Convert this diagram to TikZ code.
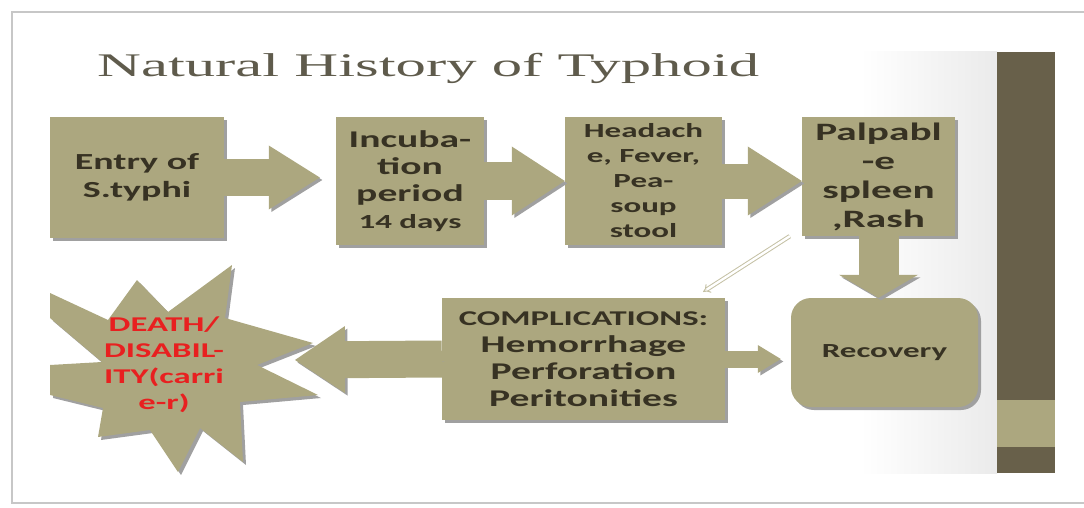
\documentclass[tikz,border=0pt]{standalone}
\usepackage{fontspec}
\setmainfont{Carlito}[FakeStretch=1.65]
\newfontfamily\titlefont{Liberation Serif}[FakeStretch=1.84]
\usetikzlibrary{arrows.meta, shadows}

\definecolor{olivebox}{RGB}{172,167,127}
\definecolor{darkbar}{RGB}{104,96,74}
\definecolor{boxshadow}{RGB}{160,160,160}
\definecolor{boxtext}{RGB}{55,50,35}
\definecolor{titletext}{RGB}{95,91,76}
\definecolor{deathred}{RGB}{232,32,32}

\tikzset{
  box/.style={rectangle, fill=olivebox, inner sep=0pt, text=boxtext, align=center,
    drop shadow={shadow xshift=3pt, shadow yshift=-3pt, fill=boxshadow, opacity=1}},
  blockarr/.style={draw=olivebox,
    preaction={draw=boxshadow, transform canvas={shift={(2.5pt,-2.5pt)}}}},
}

\begin{document}
\begin{tikzpicture}[x=1pt, y=-1pt]
  \useasboundingbox (0,0) rectangle (1084,508);
  % slide frame and side bar
  \draw[black!22, line width=1.5pt] (1084,12) -- (12,12) -- (12,503) -- (1084,503);
  \shade[left color=white, right color=black!8] (860,52) rectangle (997,473);
  \fill[darkbar] (997,52) rectangle (1055,473);
  \fill[olivebox] (997,400) rectangle (1055,447);
  % title
  \node[anchor=base west, inner sep=0pt, text=titletext,
    font=\titlefont\fontsize{33}{33}\selectfont] (title) at (97,77) {Natural History of Typhoid};
  % top row
  \node[box, minimum width=174pt, minimum height=121pt, font=\bfseries\fontsize{23}{28}\selectfont]
    (entry) at (137,177.5) {Entry of\\S.typhi};
  \node[box, minimum width=148pt, minimum height=128pt, font=\bfseries\fontsize{24}{27}\selectfont]
    (incub) at (410,181) {Incuba-\\tion\\period\\{\fontsize{20}{27}\selectfont 14 days}};
  \node[box, minimum width=157pt, minimum height=128pt, font=\bfseries\fontsize{20}{25}\selectfont]
    (symp) at (643.5,181) {Headach\\e, Fever,\\Pea-\\soup\\stool};
  \node[box, minimum width=153pt, minimum height=119pt, font=\bfseries\fontsize{25}{29}\selectfont]
    (spleen) at (878.5,176.5) {Palpabl\\-e\\spleen\\,Rash};
  % bottom row
  \node[box, minimum width=283pt, minimum height=122pt, font=\bfseries\fontsize{24}{27}\selectfont]
    (compl) at (583.5,359) {{\fontsize{21}{27}\selectfont COMPLICATIONS:}\\Hemorrhage\\Perforation\\Peritonities};
  \node[box, rounded corners=20pt, minimum width=187pt, minimum height=109pt,
    font=\bfseries\fontsize{20}{24}\selectfont] (recov) at (884.5,352.5) {Recovery};
  \fill[olivebox, preaction={fill=boxshadow, transform canvas={shift={(3pt,-3pt)}}}]
    (232,265) -- (225,318) -- (313,343) -- (257,365) -- (318,395) -- (240,402)
    -- (243,462) -- (200,428) -- (178,472) -- (150,430) -- (98,437) -- (103,408)
    -- (50,395) -- (50,365) -- (102,362) -- (50,318) -- (50,293) -- (108,320)
    -- (137,280) -- (168,312) -- cycle;
  \node[inner sep=0pt, align=center, text=deathred, font=\bfseries\fontsize{21}{26}\selectfont]
    (death) at (164,365) {DEATH/\\DISABIL-\\ITY(carri\\e-r)};
  \coordinate (deathtip) at (295,360);
  % connectors
  \draw[blockarr, line width=37pt, -{Triangle[length=51pt, width=64pt, line width=0pt]}, shorten >=16pt]
    (entry.east) -- (entry.east -| incub.west);
  \draw[blockarr, line width=38pt, -{Triangle[length=53pt, width=69pt, line width=0pt]}]
    (incub.east |- symp.west) -- (symp.west);
  \draw[blockarr, line width=35pt, -{Triangle[length=54pt, width=69pt, line width=0pt]}]
    (symp.east) -- (symp.east -| spleen.west);
  \draw[blockarr, line width=40pt, -{Triangle[length=23pt, width=79pt, line width=0pt]}]
    (spleen.south) -- (spleen.south |- recov.north);
  \draw[blockarr, line width=17pt, -{Triangle[length=23pt, width=28pt, line width=0pt]}, shorten >=10pt]
    (compl.east) -- (compl.east -| recov.west);
  \draw[blockarr, line width=37pt, -{Triangle[length=50pt, width=67pt, line width=0pt]}]
    (compl.west) -- (deathtip);
  \draw[draw=olivebox!70, line width=1pt, double=white, double distance=2.4pt, -{Implies[length=5pt]}]
    ([xshift=-12pt]spleen.south west) -- ([shift={(-22pt,6pt)}]compl.north east);
\end{tikzpicture}
\end{document}
